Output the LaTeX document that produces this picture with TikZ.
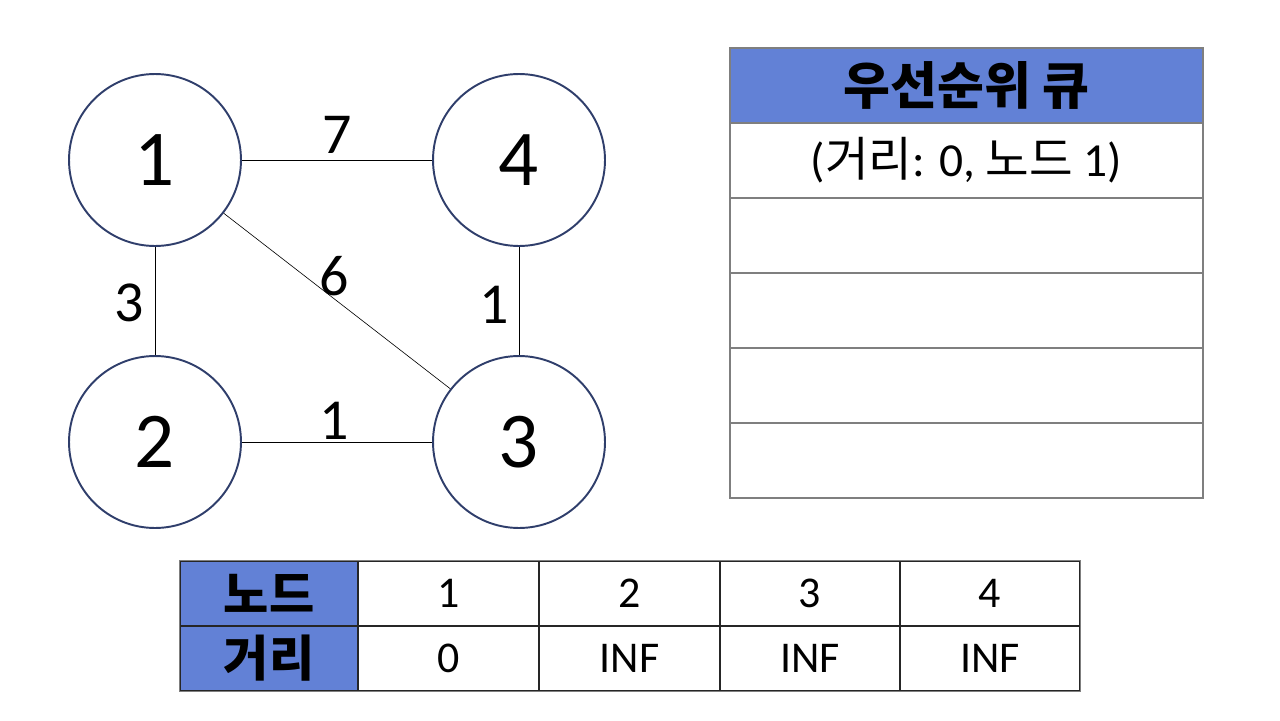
\documentclass[tikz,border=0pt]{standalone}
\usepackage{fontspec}
\setmainfont{Carlito}
\newfontfamily\kr{Noto Sans CJK KR}
\definecolor{nodeline}{HTML}{2F3E6B}
\definecolor{headblue}{HTML}{6281D6}
\definecolor{gridgray}{HTML}{7F7F7F}
\begin{document}
\begin{tikzpicture}[x=0.02cm,y=-0.02cm,
	vertex/.style={circle,draw=nodeline,line width=1.1pt,minimum size=3.44cm,inner sep=0pt,font=\fontsize{45}{50}\selectfont},
	weight/.style={font=\fontsize{33}{36}\selectfont},
	qcell/.style={draw=gridgray,line width=0.8pt,minimum width=9.46cm,minimum height=1.5cm,inner sep=0pt,font=\fontsize{27}{30}\selectfont},
	dcell/.style={draw=black!85,line width=0.7pt,minimum width=3.6cm,minimum height=1.3cm,inner sep=0pt,font=\fontsize{25}{28}\selectfont},
	head/.style={fill=headblue,font=\kr\bfseries\fontsize{28}{32}\selectfont}]
	\useasboundingbox (0,0) rectangle (1280,720);
	% graph
	\node[vertex] (n1) at (155,160) {1};
	\node[vertex] (n4) at (519,160) {4};
	\node[vertex] (n2) at (155,442) {2};
	\node[vertex] (n3) at (519,442) {3};
	\draw[line width=0.5pt] (n1) -- (n4);
	\draw[line width=0.5pt] (n1) -- (n2);
	\draw[line width=0.5pt] (n4) -- (n3);
	\draw[line width=0.5pt] (n2) -- (n3);
	\draw[line width=0.35pt] (n1) -- (n3);
	\node[weight] (w14) at (337,135) {7};
	\node[weight] (w12) at (129,303) {3};
	\node[weight] (w13) at (334,276) {6};
	\node[weight] (w43) at (494,305) {1};
	\node[weight] (w23) at (334,421) {1};
	% priority queue
	\node[qcell,head,font=\kr\bfseries\fontsize{29}{32}\selectfont] (q0) at (966.5,85.5) {우선순위 큐};
	\node[qcell] (q1) at (966.5,160.5) {({\kr 거리}: 0, {\kr 노드} 1)};
	\foreach \i/\y in {2/235.5,3/310.5,4/385.5,5/460.5}
		\node[qcell] (q\i) at (966.5,\y) {};
	% distance table
	\node[dcell,head,minimum width=3.56cm] (t0) at (269,593.5) {노드};
	\node[dcell,head,minimum width=3.56cm] (d0) at (269,658.5) {거리};
	\node[dcell] (t1) at (448.5,593.5) {1};
	\node[dcell] (d1) at (448.5,658.5) {0};
	\foreach \i/\x in {2/629.5,3/810,4/990} {
		\node[dcell] (t\i) at (\x,593.5) {\i};
		\node[dcell] (d\i) at (\x,658.5) {INF};
	}
	\draw[gridgray,line width=0.8pt] (t0.north west) rectangle (d4.south east);
\end{tikzpicture}
\end{document}
